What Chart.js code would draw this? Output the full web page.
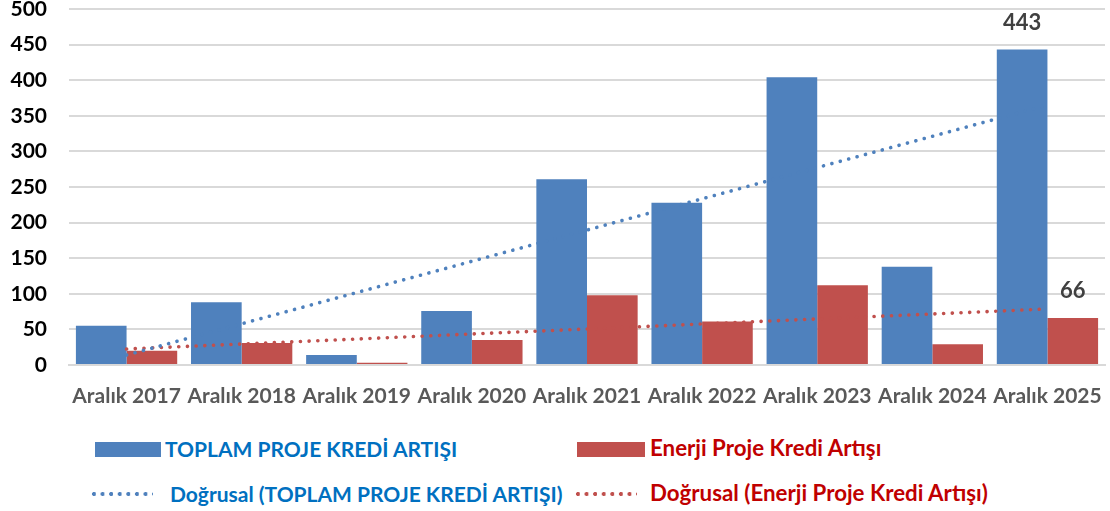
<!DOCTYPE html>
<html><head><meta charset="utf-8">
<script src="https://cdn.jsdelivr.net/npm/chart.js@4"></script>
<style>
html,body{margin:0;padding:0;background:#fff;}
#wrap{position:relative;width:1110px;height:511px;font-family:Lato,"Liberation Sans",sans-serif;}
#cv{position:absolute;left:0;top:0;}
.lg{position:absolute;font-weight:bold;font-size:21px;white-space:nowrap;line-height:24px;}
.red{font-size:22.3px;}
.box{position:absolute;height:15px;}
.dots{position:absolute;height:6px;background-size:8.6px 6px;background-repeat:repeat-x;}
</style></head><body>
<div id="wrap">
<canvas id="cv" width="1110" height="420"></canvas>
<div class="box" style="left:95px;top:442px;width:66px;background:#4F81BD"></div>
<div class="lg" style="left:165px;top:437px;color:#0070C0">TOPLAM PROJE KREDİ ARTIŞI</div>
<div class="box" style="left:577px;top:442px;width:68px;background:#C0504D"></div>
<div class="lg red" style="left:650px;top:436px;color:#C00000">Enerji Proje Kredi Artışı</div>
<div class="dots" style="left:91px;top:491px;width:62px;background-image:radial-gradient(circle at 3px 3px,#4F81BD 1.8px,transparent 2.3px)"></div>
<div class="lg" style="left:170px;top:482px;color:#0070C0">Doğrusal (TOPLAM PROJE KREDİ ARTIŞI)</div>
<div class="dots" style="left:575px;top:491px;width:62px;background-image:radial-gradient(circle at 3px 3px,#C0504D 1.8px,transparent 2.3px)"></div>
<div class="lg red" style="left:650px;top:481px;color:#C00000">Doğrusal (Enerji Proje Kredi Artışı)</div>
</div>
<script>
const categories = ["Aralık 2017","Aralık 2018","Aralık 2019","Aralık 2020","Aralık 2021","Aralık 2022","Aralık 2023","Aralık 2024","Aralık 2025"];
const toplam = [55, 88, 14, 76, 261, 228, 404, 138, 443];
const enerji = [20, 31, 3, 35, 98, 61, 112, 29, 66];
const trendToplam = [14, null, null, null, null, null, null, null, 365];
const trendEnerji = [22.4, null, null, null, null, null, null, null, 78.7];
const yTicks = [0, 50, 100, 150, 200, 250, 300, 350, 400, 450, 500];
const labelledPoints = [{ds: 0, i: 8, text: "443"}, {ds: 1, i: 8, text: "66"}];

const FONT = 'Lato, "Liberation Sans", sans-serif';

const labelPlugin = {
  id: 'lbl',
  afterDatasetsDraw(chart) {
    const ctx = chart.ctx;
    ctx.save();
    ctx.font = 'bold 22px ' + FONT;
    ctx.fillStyle = '#404040';
    ctx.textAlign = 'center';
    ctx.textBaseline = 'middle';
    labelledPoints.forEach(p => {
      const el = chart.getDatasetMeta(p.ds).data[p.i];
      ctx.fillText(p.text, el.x, el.y - 27);
    });
    ctx.restore();
  }
};

new Chart(document.getElementById('cv'), {
  data: {
    labels: categories,
    datasets: [
      {type: 'bar', label: 'TOPLAM PROJE KREDİ ARTIŞI', data: toplam, backgroundColor: '#4F81BD', order: 3, categoryPercentage: 0.88, barPercentage: 1.0},
      {type: 'bar', label: 'Enerji Proje Kredi Artışı', data: enerji, backgroundColor: '#C0504D', order: 3, categoryPercentage: 0.88, barPercentage: 1.0},
      {type: 'line', label: 'Doğrusal (TOPLAM PROJE KREDİ ARTIŞI)', data: trendToplam, spanGaps: true, borderColor: '#4F81BD', borderWidth: 3.6, borderDash: [0.1, 8.6], borderCapStyle: 'round', pointRadius: 0, fill: false, order: 1},
      {type: 'line', label: 'Doğrusal (Enerji Proje Kredi Artışı)', data: trendEnerji, spanGaps: true, borderColor: '#C0504D', borderWidth: 3.6, borderDash: [0.1, 8.6], borderCapStyle: 'round', pointRadius: 0, fill: false, order: 1}
    ]
  },
  options: {
    responsive: false,
    animation: false,
    layout: {padding: {top: 0, right: 5, bottom: 0, left: 0}},
    plugins: {legend: {display: false}, tooltip: {enabled: false}},
    scales: {
      x: {
        grid: {display: false, drawTicks: true, tickLength: 19, tickColor: 'rgba(0,0,0,0)'},
        border: {display: true, color: '#D9D9D9', width: 2},
        ticks: {font: {family: FONT, size: 21, weight: 'bold'}, color: '#595959', padding: 0, maxRotation: 0, autoSkip: false},
        afterFit(s) { s.height = 55; }
      },
      y: {
        min: 0, max: 500,
        afterBuildTicks(s) { s.ticks = yTicks.map(v => ({value: v})); },
        grid: {color: '#D9D9D9', lineWidth: 2, drawTicks: true, tickLength: 22, tickColor: 'rgba(0,0,0,0)'},
        border: {display: false},
        ticks: {font: {family: FONT, size: 21, weight: 'bold', lineHeight: 0.85}, color: '#000', padding: 0},
        afterFit(s) { s.width = 69; }
      }
    }
  },
  plugins: [labelPlugin]
});
</script>
</body></html>
